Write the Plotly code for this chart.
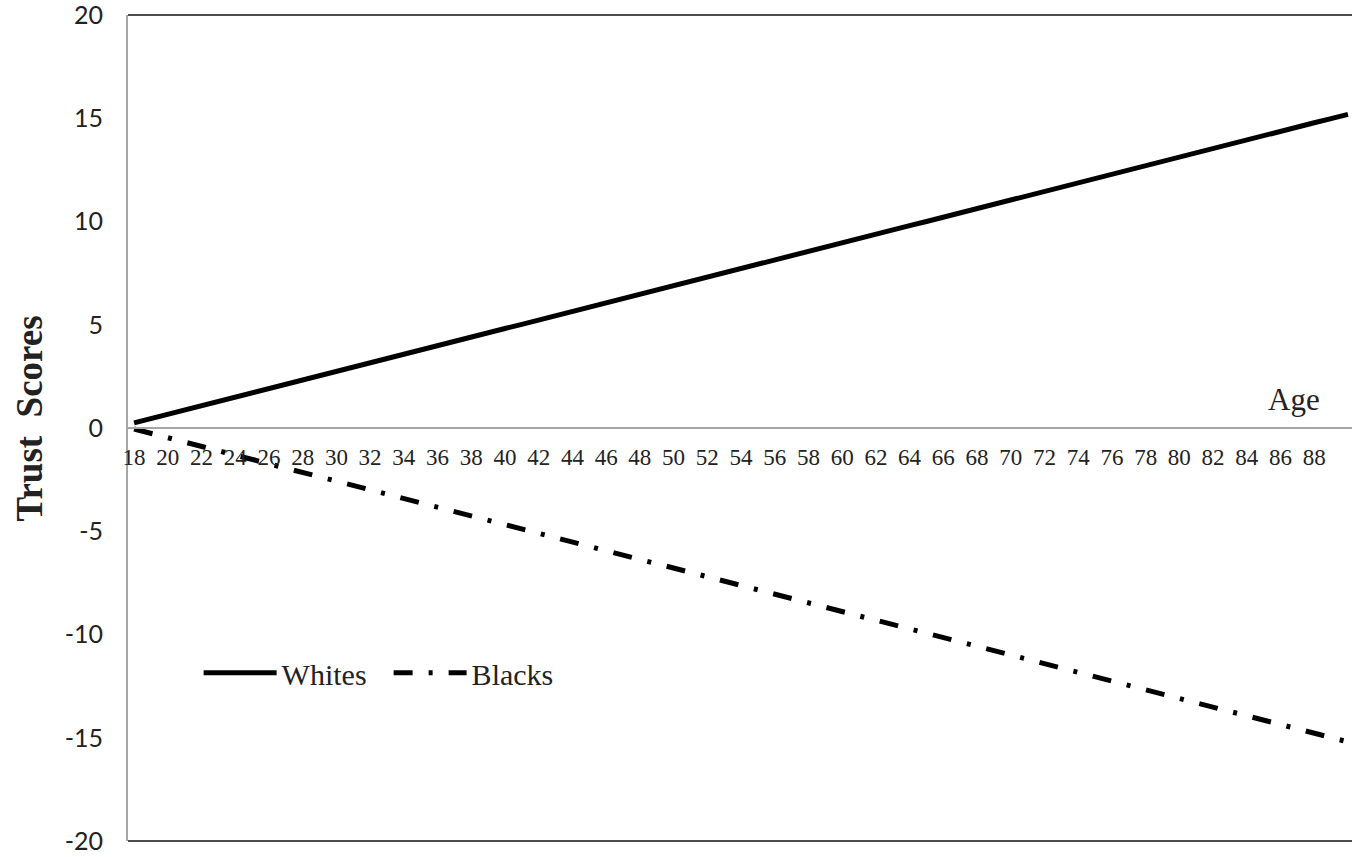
import plotly.graph_objects as go

ages = list(range(18, 91))
tick_ages = list(range(18, 89, 2))
y_ticks = [-20, -15, -10, -5, 0, 5, 10, 15, 20]
y_tick_text = ["-20", "-15", "-10", "-5", "0", "5", "10", "15", "20"]

whites = [0.25, 0.46, 0.66, 0.87, 1.08, 1.29, 1.50, 1.70, 1.91, 2.12,
          2.33, 2.53, 2.74, 2.95, 3.16, 3.36, 3.57, 3.78, 3.99, 4.19,
          4.40, 4.61, 4.82, 5.02, 5.23, 5.44, 5.65, 5.85, 6.06, 6.27,
          6.48, 6.68, 6.89, 7.10, 7.31, 7.51, 7.72, 7.93, 8.14, 8.34,
          8.55, 8.76, 8.97, 9.17, 9.38, 9.59, 9.80, 10.00, 10.21, 10.42,
          10.63, 10.83, 11.04, 11.25, 11.46, 11.66, 11.87, 12.08, 12.29, 12.49,
          12.70, 12.91, 13.12, 13.32, 13.53, 13.74, 13.95, 14.15, 14.36, 14.57,
          14.78, 14.98, 15.19]

blacks = [-0.05, -0.26, -0.47, -0.68, -0.89, -1.10, -1.31, -1.52, -1.73, -1.94,
          -2.15, -2.36, -2.57, -2.79, -3.00, -3.21, -3.42, -3.63, -3.84, -4.05,
          -4.26, -4.47, -4.68, -4.89, -5.10, -5.31, -5.52, -5.73, -5.94, -6.15,
          -6.36, -6.57, -6.78, -6.99, -7.20, -7.41, -7.62, -7.83, -8.04, -8.26,
          -8.47, -8.68, -8.89, -9.10, -9.31, -9.52, -9.73, -9.94, -10.15, -10.36,
          -10.57, -10.78, -10.99, -11.20, -11.41, -11.62, -11.83, -12.04, -12.25, -12.46,
          -12.67, -12.88, -13.09, -13.30, -13.51, -13.73, -13.94, -14.15, -14.36, -14.57,
          -14.78, -14.99, -15.20]

serif = "Liberation Serif, Times New Roman, serif"

fig = go.Figure()
fig.add_trace(go.Scatter(x=ages, y=whites, mode="lines", name="Whites",
                         line=dict(color="black", width=5)))
fig.add_trace(go.Scatter(x=ages, y=blacks, mode="lines", name="Blacks",
                         line=dict(color="black", width=5, dash="19px,16px,4px,16px")))

fig.update_layout(
    width=1352, height=857,
    margin=dict(l=128, r=0, t=15, b=16),
    paper_bgcolor="white", plot_bgcolor="white",
    showlegend=True,
    legend=dict(orientation="h", x=0.0577, y=0.2036, xanchor="left", yanchor="middle",
                font=dict(family=serif, size=30, color="#222"),
                bgcolor="rgba(0,0,0,0)", itemwidth=73,
                entrywidth=102, entrywidthmode="pixels", tracegroupgap=0),
    xaxis=dict(range=[17.64, 90.24], tickmode="array", tickvals=tick_ages,
               ticktext=[str(a) for a in tick_ages],
               anchor="free", position=0.5, showline=True, linecolor="#a6a6a6",
               linewidth=2, showgrid=False, zeroline=False, ticks="",
               tickfont=dict(family=serif, size=23, color="#222"),
               ticklabelstandoff=8),
    yaxis=dict(range=[-20, 20], tickmode="array", tickvals=y_ticks,
               ticktext=y_tick_text, ticklabeloverflow="allow",
               showline=True, linecolor="#a6a6a6", linewidth=2,
               showgrid=False, zeroline=False, ticks="",
               tickfont=dict(family="Lato, Open Sans, sans-serif", size=25, color="#222"),
               ticklabelstandoff=18),
    annotations=[
        dict(text="Age", xref="paper", yref="paper", x=0.9526, y=0.534,
             xanchor="center", yanchor="middle", showarrow=False,
             font=dict(family=serif, size=31, color="#222")),
        dict(text="<b>Trust\u00a0\u00a0Scores</b>", xref="paper", yref="paper",
             x=-0.0805, y=0.512, xanchor="center", yanchor="middle",
             textangle=-90, showarrow=False,
             font=dict(family=serif, size=37, color="#222")),
    ],
    shapes=[
        dict(type="line", xref="paper", yref="paper", x0=0, x1=1, y0=1, y1=1,
             line=dict(color="#4d4d4d", width=2)),
        dict(type="line", xref="paper", yref="paper", x0=0, x1=1, y0=0, y1=0,
             line=dict(color="#4d4d4d", width=2)),
    ],
)

fig.write_html("out.html",
               config={"displayModeBar": False},
               post_script="document.body.style.margin='0';document.body.style.overflow='hidden';")
